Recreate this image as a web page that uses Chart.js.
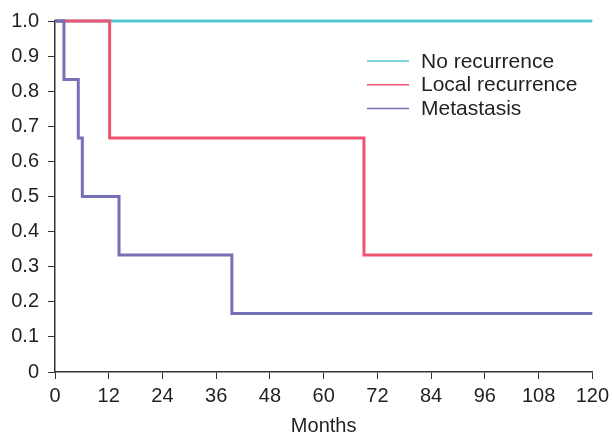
<!DOCTYPE html>
<html>
<head>
<meta charset="utf-8">
<script src="https://cdn.jsdelivr.net/npm/chart.js@4"></script>
<style>
  html, body { margin: 0; padding: 0; background: #fff; }
  #wrap { width: 614px; height: 438px; }
</style>
</head>
<body>
<div id="wrap"><canvas id="km"></canvas></div>
<script>
// Series labels, in legend order.
const SERIES_LABELS = ["No recurrence", "Local recurrence", "Metastasis"];

// Kaplan-Meier steps: month of each event and survival after it.
const NO_REC_MONTHS = [0, 120];
const NO_REC_SURV = [1, 1];

const LOCAL_MONTHS = [0, 12.2, 69, 120];
const LOCAL_SURV = [1, 0.667, 0.333, 0.333];

const MET_MONTHS = [0, 2, 5.2, 6.1, 14.3, 39.5, 120];
const MET_SURV = [1, 0.833, 0.667, 0.5, 0.333, 0.167, 0.167];

// Axis ticks.
const X_TICKS = [0, 12, 24, 36, 48, 60, 72, 84, 96, 108, 120];
const Y_TICKS = [0, 0.1, 0.2, 0.3, 0.4, 0.5, 0.6, 0.7, 0.8, 0.9, 1.0];

const COLORS = ["#55c6cf", "#ef5572", "#7670b6"];
const FONT = "'Liberation Sans', Arial, sans-serif";
const TEXT = "#231f20";

Chart.defaults.font.family = FONT;
Chart.defaults.color = TEXT;

function points(xs, ys) {
    return xs.map((x, i) => ({ x: x, y: ys[i] }));
}

// Legend drawn inside the plot area, top right.
const insideLegend = {
    id: 'insideLegend',
    afterDraw(chart) {
        const ctx = chart.ctx;
        const area = chart.chartArea;
        const x0 = area.left + 312;
        const y0 = area.top + 40;
        ctx.save();
        ctx.font = `21px ${FONT}`;
        ctx.textBaseline = 'middle';
        SERIES_LABELS.forEach((label, i) => {
            const y = y0 + i * 23.7;
            ctx.strokeStyle = COLORS[i];
            ctx.lineWidth = 1.5;
            ctx.beginPath();
            ctx.moveTo(x0, y);
            ctx.lineTo(x0 + 42, y);
            ctx.stroke();
            ctx.fillStyle = TEXT;
            ctx.fillText(label, x0 + 54, y + 1);
        });
        ctx.restore();
    }
};

const series = [
    [NO_REC_MONTHS, NO_REC_SURV, 3],
    [LOCAL_MONTHS, LOCAL_SURV, 2],
    [MET_MONTHS, MET_SURV, 1],
];

new Chart(document.getElementById("km"), {
    type: 'line',
    data: {
        datasets: series.map((s, i) => ({
            label: SERIES_LABELS[i],
            data: points(s[0], s[1]),
            borderColor: COLORS[i],
            borderWidth: 3,
            stepped: true,
            pointRadius: 0,
            fill: false,
            order: s[2],
            clip: 8,
        })),
    },
    options: {
        responsive: true,
        maintainAspectRatio: false,
        animation: false,
        layout: {
            padding: { top: 20, right: 21, left: 0, bottom: 0 },
        },
        plugins: {
            legend: { display: false },
            tooltip: { enabled: false },
        },
        scales: {
            x: {
                type: 'linear',
                min: 0,
                max: 120,
                afterBuildTicks: axis => { axis.ticks = X_TICKS.map(v => ({ value: v })); },
                afterFit: axis => { axis.height = 66; },
                ticks: {
                    font: { size: 20 },
                    color: TEXT,
                    padding: 5,
                    maxRotation: 0,
                },
                grid: {
                    drawOnChartArea: false,
                    drawTicks: true,
                    tickLength: 7,
                    color: '#333',
                },
                border: { color: '#333', width: 1.5 },
                title: {
                    display: true,
                    text: "Months",
                    font: { size: 20 },
                    color: TEXT,
                    padding: { top: 4, bottom: 0 },
                },
            },
            y: {
                min: 0,
                max: 1,
                afterBuildTicks: axis => { axis.ticks = Y_TICKS.map(v => ({ value: v })); },
                afterFit: axis => { axis.width = 55; },
                ticks: {
                    font: { size: 20 },
                    color: TEXT,
                    padding: 9,
                    callback: v => v === 0 ? "0" : v.toFixed(1),
                },
                grid: {
                    drawOnChartArea: false,
                    drawTicks: true,
                    tickLength: 7,
                    color: '#333',
                },
                border: { color: '#333', width: 1.5 },
            },
        },
    },
    plugins: [insideLegend],
});
</script>
</body>
</html>
